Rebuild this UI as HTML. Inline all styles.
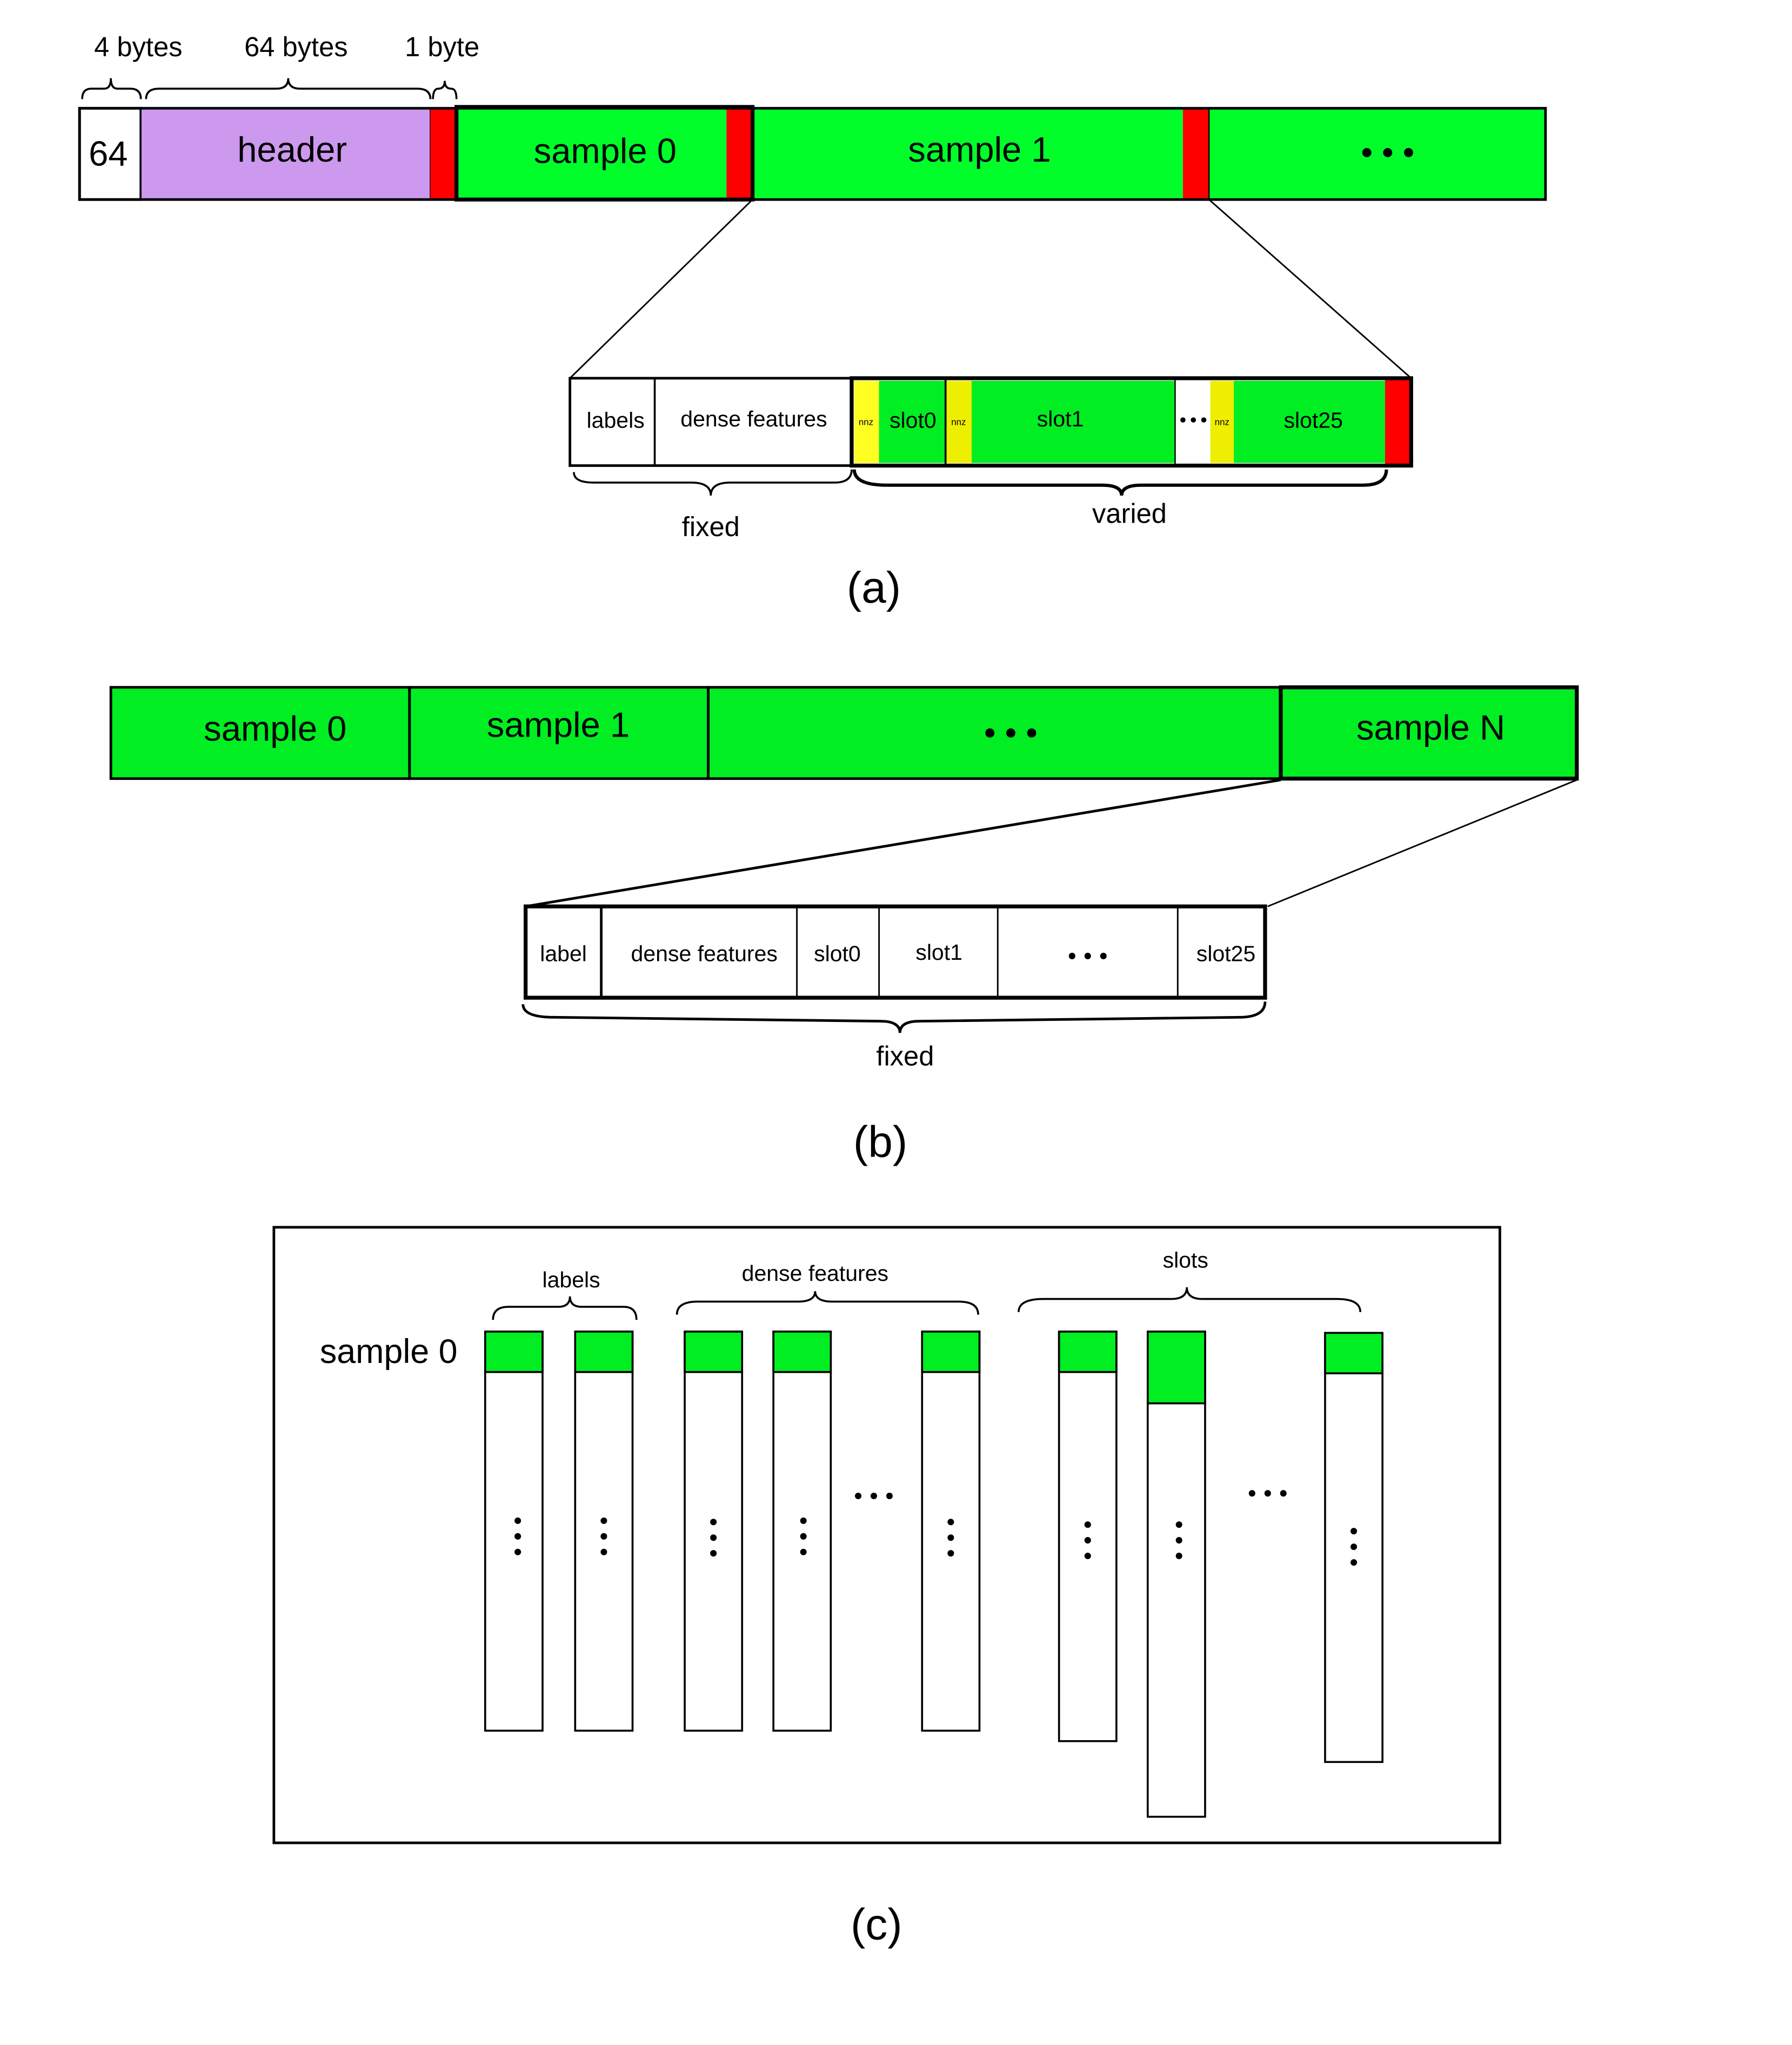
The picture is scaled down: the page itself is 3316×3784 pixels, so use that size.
<!DOCTYPE html>
<html><head><meta charset="utf-8"><style>
html,body{margin:0;padding:0;background:#fff;width:3316px;height:3784px;overflow:hidden}
svg{display:block}
text{font-family:"Liberation Sans",Arial,sans-serif;fill:#000}
</style></head><body>
<svg width="3316" height="3784" viewBox="0 0 1374 1568" preserveAspectRatio="none" xmlns="http://www.w3.org/2000/svg">
<rect x="0" y="0" width="1374" height="1568" fill="#fff"/>
<g fill="none" stroke="#000" stroke-width="1.5">
<path d="M63 76 Q63 68 70 68 L80 68 Q85 68 85 60 Q85 68 90 68 L100 68 Q108 68 108 76"/>
<path d="M112 76 Q112 68 122 68 L212 68 Q221 68 221 60 Q221 68 230 68 L320 68 Q330 68 330 76"/>
<path d="M332 76 Q332 68 336 68 Q341 68 341 62 Q341 68 346 68 Q350 68 350 76"/>
</g>
<text x="106" y="43" font-size="21" text-anchor="middle">4 bytes</text>
<text x="227" y="43" font-size="21" text-anchor="middle">64 bytes</text>
<text x="339" y="43" font-size="21" text-anchor="middle">1 byte</text>
<rect x="61" y="83" width="47" height="70" fill="#fff" stroke="#000" stroke-width="2"/>
<rect x="108" y="83" width="222" height="70" fill="#cc99ee" stroke="#000" stroke-width="1"/>
<rect x="330" y="83" width="20" height="70" fill="#ff0000"/>
<rect x="350" y="83" width="207" height="70" fill="#00ff2a"/>
<rect x="557" y="83" width="20" height="70" fill="#ff0000"/>
<rect x="577" y="83" width="330" height="70" fill="#00ff2a"/>
<rect x="907" y="83" width="20" height="70" fill="#ff0000"/>
<rect x="927" y="83" width="258" height="70" fill="#00ff2a"/>
<rect x="61" y="83" width="1124" height="70" fill="none" stroke="#000" stroke-width="2"/>
<rect x="350" y="82" width="227" height="71" fill="none" stroke="#000" stroke-width="3"/>
<line x1="577" y1="83" x2="577" y2="153" stroke="#000" stroke-width="1"/>
<line x1="927" y1="83" x2="927" y2="153" stroke="#000" stroke-width="1"/>
<text x="83" y="127" font-size="27" text-anchor="middle">64</text>
<text x="224" y="124" font-size="27" text-anchor="middle">header</text>
<text x="464" y="125" font-size="27" text-anchor="middle">sample 0</text>
<text x="751" y="124" font-size="27" text-anchor="middle">sample 1</text>
<g fill="#000"><circle cx="1048" cy="117" r="3.5"/><circle cx="1064" cy="117" r="3.5"/><circle cx="1080" cy="117" r="3.5"/></g>
<line x1="577" y1="153" x2="437" y2="290" stroke="#000" stroke-width="1.2"/>
<line x1="927" y1="153" x2="1082" y2="290" stroke="#000" stroke-width="1.2"/>
<rect x="437" y="290" width="645" height="67" fill="#fff" stroke="#000" stroke-width="2"/>
<line x1="502" y1="290" x2="502" y2="357" stroke="#000" stroke-width="1.5"/>
<rect x="655" y="292" width="19" height="63" fill="#ffff22"/>
<rect x="674" y="292" width="51" height="63" fill="#00ee22"/>
<rect x="725" y="292" width="20" height="63" fill="#eeee00"/>
<rect x="745" y="292" width="156" height="63" fill="#00ee22"/>
<rect x="928" y="292" width="18" height="63" fill="#eeee00"/>
<rect x="946" y="292" width="116" height="63" fill="#00ee22"/>
<rect x="1062" y="290" width="20" height="67" fill="#ff0000"/>
<rect x="653" y="290" width="429" height="67" fill="none" stroke="#000" stroke-width="3"/>
<line x1="725" y1="290" x2="725" y2="357" stroke="#000" stroke-width="1.5"/>
<line x1="901" y1="290" x2="901" y2="357" stroke="#000" stroke-width="1"/>
<line x1="1082" y1="290" x2="1082" y2="357" stroke="#000" stroke-width="1.5"/>
<text x="472" y="328" font-size="17" text-anchor="middle">labels</text>
<text x="578" y="327" font-size="17" text-anchor="middle">dense features</text>
<text x="664" y="326" font-size="7" text-anchor="middle">nnz</text>
<text x="700" y="328" font-size="17" text-anchor="middle">slot0</text>
<text x="735" y="326" font-size="7" text-anchor="middle">nnz</text>
<text x="813" y="327" font-size="17" text-anchor="middle">slot1</text>
<text x="937" y="326" font-size="7" text-anchor="middle">nnz</text>
<text x="1007" y="328" font-size="17" text-anchor="middle">slot25</text>
<g fill="#000"><circle cx="907" cy="322" r="2"/><circle cx="915" cy="322" r="2"/><circle cx="923" cy="322" r="2"/></g>
<g fill="none" stroke="#000" stroke-width="1.5">
<path d="M440 362 Q440 370 455 370 L530 370 Q545 370 545 380 Q545 370 560 370 L640 370 Q653 370 653 360"/>
<path d="M655 360 Q655 372 680 372 L845 372 Q860 372 860 380 Q860 372 875 372 L1045 372 Q1063 372 1063 360" stroke-width="2.5"/>
</g>
<text x="545" y="411" font-size="21" text-anchor="middle">fixed</text>
<text x="866" y="401" font-size="21" text-anchor="middle">varied</text>
<text x="670" y="462" font-size="34" text-anchor="middle">(a)</text>
<rect x="85" y="527" width="1124" height="70" fill="#00ee22"/>
<rect x="85" y="527" width="229" height="70" fill="none" stroke="#000" stroke-width="2"/>
<rect x="314" y="527" width="229" height="70" fill="none" stroke="#000" stroke-width="2"/>
<rect x="543" y="527" width="439" height="70" fill="none" stroke="#000" stroke-width="2"/>
<rect x="982" y="527" width="227" height="70" fill="none" stroke="#000" stroke-width="3"/>
<text x="211" y="568" font-size="27" text-anchor="middle">sample 0</text>
<text x="428" y="565" font-size="27" text-anchor="middle">sample 1</text>
<text x="1097" y="567" font-size="27" text-anchor="middle">sample N</text>
<g fill="#000"><circle cx="759" cy="562" r="3.5"/><circle cx="775" cy="562" r="3.5"/><circle cx="791" cy="562" r="3.5"/></g>
<line x1="982" y1="598" x2="403" y2="695" stroke="#000" stroke-width="2"/>
<line x1="1209" y1="598" x2="972" y2="695" stroke="#000" stroke-width="1.2"/>
<rect x="403" y="695" width="567" height="70" fill="#fff" stroke="#000" stroke-width="3"/>
<g stroke="#000" stroke-width="1.2">
<line x1="461" y1="695" x2="461" y2="765" stroke-width="2"/>
<line x1="611" y1="695" x2="611" y2="765"/>
<line x1="674" y1="695" x2="674" y2="765"/>
<line x1="765" y1="695" x2="765" y2="765"/>
<line x1="903" y1="695" x2="903" y2="765"/>
</g>
<text x="432" y="737" font-size="17" text-anchor="middle">label</text>
<text x="540" y="737" font-size="17" text-anchor="middle">dense features</text>
<text x="642" y="737" font-size="17" text-anchor="middle">slot0</text>
<text x="720" y="736" font-size="17" text-anchor="middle">slot1</text>
<text x="940" y="737" font-size="17" text-anchor="middle">slot25</text>
<g fill="#000"><circle cx="822" cy="733" r="2.5"/><circle cx="834" cy="733" r="2.5"/><circle cx="846" cy="733" r="2.5"/></g>
<path d="M401 770 Q401 780 425 780 L675 783 Q690 783 690 792 Q690 783 705 783 L950 780 Q970 780 970 768" fill="none" stroke="#000" stroke-width="2"/>
<text x="694" y="817" font-size="21" text-anchor="middle">fixed</text>
<text x="675" y="887" font-size="34" text-anchor="middle">(b)</text>
<rect x="210" y="941" width="940" height="472" fill="#fff" stroke="#000" stroke-width="2"/>
<text x="298" y="1045" font-size="26" text-anchor="middle">sample 0</text>
<g fill="none" stroke="#000" stroke-width="1.5">
<path d="M378 1012 Q378 1002 390 1002 L428 1002 Q437 1002 437 994 Q437 1002 446 1002 L478 1002 Q488 1002 488 1012"/>
<path d="M519 1008 Q519 998 535 998 L612 998 Q625 998 625 990 Q625 998 638 998 L735 998 Q750 998 750 1008"/>
<path d="M781 1006 Q781 996 800 996 L898 996 Q910 996 910 987 Q910 996 922 996 L1025 996 Q1043 996 1043 1006"/>
</g>
<text x="438" y="987" font-size="17" text-anchor="middle">labels</text>
<text x="625" y="982" font-size="17" text-anchor="middle">dense features</text>
<text x="909" y="972" font-size="17" text-anchor="middle">slots</text>
<g stroke="#000" stroke-width="1.5">
<rect x="372" y="1021" width="44" height="306" fill="#fff"/><rect x="372" y="1021" width="44" height="31" fill="#00ee22"/>
<rect x="441" y="1021" width="44" height="306" fill="#fff"/><rect x="441" y="1021" width="44" height="31" fill="#00ee22"/>
<rect x="525" y="1021" width="44" height="306" fill="#fff"/><rect x="525" y="1021" width="44" height="31" fill="#00ee22"/>
<rect x="593" y="1021" width="44" height="306" fill="#fff"/><rect x="593" y="1021" width="44" height="31" fill="#00ee22"/>
<rect x="707" y="1021" width="44" height="306" fill="#fff"/><rect x="707" y="1021" width="44" height="31" fill="#00ee22"/>
<rect x="812" y="1021" width="44" height="314" fill="#fff"/><rect x="812" y="1021" width="44" height="31" fill="#00ee22"/>
<rect x="880" y="1021" width="44" height="372" fill="#fff"/><rect x="880" y="1021" width="44" height="55" fill="#00ee22"/>
<rect x="1016" y="1022" width="44" height="329" fill="#fff"/><rect x="1016" y="1022" width="44" height="31" fill="#00ee22"/>
</g>
<g fill="#000">
<circle cx="397" cy="1166" r="2.5"/><circle cx="397" cy="1178" r="2.5"/><circle cx="397" cy="1190" r="2.5"/>
<circle cx="463" cy="1166" r="2.5"/><circle cx="463" cy="1178" r="2.5"/><circle cx="463" cy="1190" r="2.5"/>
<circle cx="547" cy="1167" r="2.5"/><circle cx="547" cy="1179" r="2.5"/><circle cx="547" cy="1191" r="2.5"/>
<circle cx="616" cy="1166" r="2.5"/><circle cx="616" cy="1178" r="2.5"/><circle cx="616" cy="1190" r="2.5"/>
<circle cx="729" cy="1167" r="2.5"/><circle cx="729" cy="1179" r="2.5"/><circle cx="729" cy="1191" r="2.5"/>
<circle cx="834" cy="1169" r="2.5"/><circle cx="834" cy="1181" r="2.5"/><circle cx="834" cy="1193" r="2.5"/>
<circle cx="904" cy="1169" r="2.5"/><circle cx="904" cy="1181" r="2.5"/><circle cx="904" cy="1193" r="2.5"/>
<circle cx="1038" cy="1174" r="2.5"/><circle cx="1038" cy="1186" r="2.5"/><circle cx="1038" cy="1198" r="2.5"/>
<circle cx="658" cy="1147" r="2.5"/><circle cx="670" cy="1147" r="2.5"/><circle cx="682" cy="1147" r="2.5"/>
<circle cx="960" cy="1145" r="2.5"/><circle cx="972" cy="1145" r="2.5"/><circle cx="984" cy="1145" r="2.5"/>
</g>
<text x="672" y="1487" font-size="34" text-anchor="middle">(c)</text>
</svg>
</body></html>
